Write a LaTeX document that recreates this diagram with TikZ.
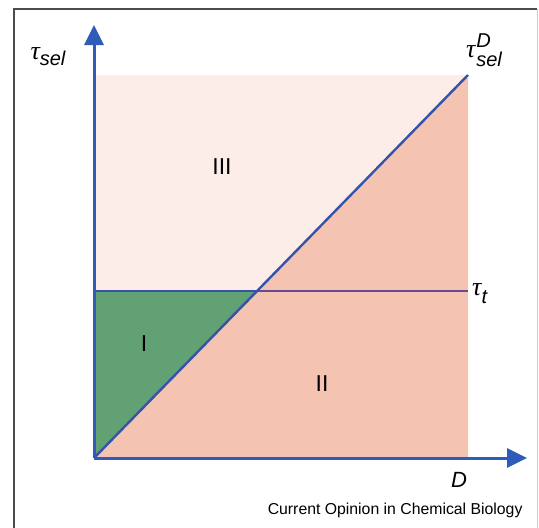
\documentclass[tikz,border=0pt]{standalone}
\usepackage{fontspec}
\setsansfont{Liberation Sans}
\newfontfamily\grkfont{Liberation Serif}
\usetikzlibrary{arrows.meta,positioning}
\definecolor{axblue}{HTML}{2F5CB8}
\definecolor{lineblue}{HTML}{3553A8}
\definecolor{purp}{HTML}{6A4A90}
\definecolor{palepink}{HTML}{FCEDE8}
\definecolor{salmon}{HTML}{F4C3B2}
\definecolor{leaf}{HTML}{62A173}
\newcommand{\slbl}[1]{\mbox{\sffamily\itshape\fontsize{20}{20}\selectfont #1}}
\newcommand{\btau}{{\grkfont\itshape\fontsize{26}{26}\selectfont τ}}
\tikzset{
  axis/.style={
    line width=3pt,
    draw=axblue,
    -{Triangle[length=20pt,width=19pt]}
  },
  bound/.style={
    line width=2.4pt,
    draw=lineblue
  },
  region/.style={
    font=\sffamily\fontsize{23}{23}\selectfont,
    text=black
  },
  axlabel/.style={
    inner sep=0pt
  },
}
\begin{document}
\begin{tikzpicture}[x=1pt,y=-1pt]
\useasboundingbox (0,0) rectangle (539,528);
\fill[white] (0,0) rectangle (539,528);
\draw[black!70, line width=2pt] (14,528) -- (14,9) -- (537,9);
\draw[black!20] (537,9) -- (537,528);
\coordinate (O) at (94,458);
\coordinate (ytip) at (94,25);
\coordinate (xtip) at (527,458);
\coordinate (tl) at (94,75);
\coordinate (br) at (468,458);
\coordinate (top) at (468,75);
\coordinate (tt) at (94,291);
\coordinate (cross) at (257,291);
\coordinate (tend) at (468,291);
\fill[palepink] (tl) rectangle (br);
\fill[salmon] (O) -- (br) -- (top) -- cycle;
\fill[leaf] (O) -- (tt) -- (cross) -- cycle;
\draw[bound] (tt) -- (cross);
\draw[bound, draw=purp] (cross) -- (tend);
\draw[bound] (O) -- (top);
\draw[axis] (O) -- (ytip);
\draw[axis] (O) -- (xtip);
\node[region] (r3) at (222,167) {III};
\node[region] (r1) at (144,344) {I};
\node[region] (r2) at (322,384) {II};
\node[axlabel] (tsel) at (48,57) {\btau\raisebox{-6pt}{\slbl{sel}}};
\node[axlabel] (tseld) at (484,50) {\btau\hspace{1pt}\raisebox{-9pt}{\shortstack[l]{\slbl{D}\\[1pt]\slbl{sel}}}};
\node[axlabel, anchor=west] (taut) at (472,294) {\btau\raisebox{-8pt}{\slbl{t}}};
\node[axlabel, font=\sffamily\itshape\fontsize{22}{22}\selectfont] (dlbl) at (459,480) {D};
\node[anchor=east, font=\sffamily\fontsize{15.8}{17}\selectfont] (src) at (526,510) {Current Opinion in Chemical Biology};
\end{tikzpicture}
\end{document}
